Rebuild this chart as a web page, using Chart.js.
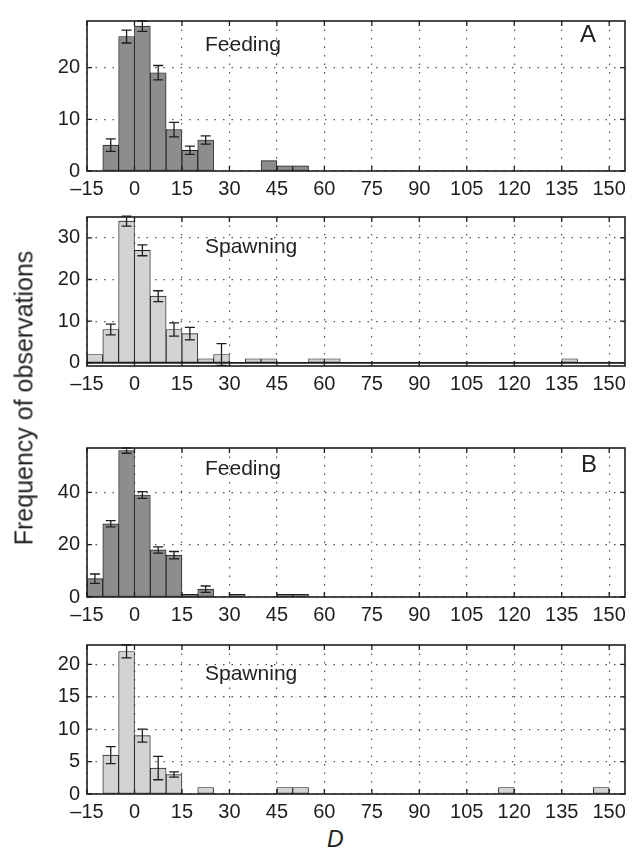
<!DOCTYPE html>
<html>
<head>
<meta charset="utf-8">
<script src="https://cdn.jsdelivr.net/npm/chart.js@4"></script>
<style>
  body { margin: 0; background: #fff; width: 638px; height: 848px; position: relative; overflow: hidden;
         font-family: "Liberation Sans", Arial, sans-serif; color: #222; }
  canvas { position: absolute; left: 0; }
  .lbl { position: absolute; font-size: 21px; line-height: 21px; white-space: nowrap; }
  .big { font-size: 24px; line-height: 24px; }
  #ytitle { position: absolute; font-size: 25px; white-space: nowrap; left: 24px; top: 398px;
            transform: translate(-50%, -50%) rotate(-90deg); }
  #xtitle { position: absolute; font-size: 23px; font-style: italic; left: 327px; top: 826px; }
</style>
</head>
<body>
<canvas id="p1"></canvas>
<canvas id="p2"></canvas>
<canvas id="p3"></canvas>
<canvas id="p4"></canvas>

<div class="lbl" style="left:205px;top:33px">Feeding</div>
<div class="lbl big" style="left:580px;top:22px">A</div>
<div class="lbl" style="left:205px;top:235px">Spawning</div>
<div class="lbl" style="left:205px;top:457px">Feeding</div>
<div class="lbl big" style="left:581px;top:452px">B</div>
<div class="lbl" style="left:205px;top:662px">Spawning</div>
<div id="ytitle">Frequency of observations</div>
<div id="xtitle">D</div>

<script>
// bin centres of D (bins 5 wide)
const binCenters = [-12.5, -7.5, -2.5, 2.5, 7.5, 12.5, 17.5, 22.5, 27.5, 32.5,
                    37.5, 42.5, 47.5, 52.5, 57.5, 62.5, 67.5, 72.5, 77.5, 82.5,
                    87.5, 92.5, 97.5, 102.5, 107.5, 112.5, 117.5, 122.5, 127.5, 132.5,
                    137.5, 142.5, 147.5, 152.5];
const xTicks = [-15, 0, 15, 30, 45, 60, 75, 90, 105, 120, 135, 150];
const xTickLabels = ['\u201315', '0', '15', '30', '45', '60', '75', '90', '105', '120', '135', '150'];

// A: feeding / spawning
const feedingA = [0, 5, 26, 28, 19, 8, 4, 6, 0, 0, 0, 2, 1, 1, 0, 0, 0, 0, 0, 0,
                  0, 0, 0, 0, 0, 0, 0, 0, 0, 0, 0, 0, 0, 0];
const feedingAErr = [null, 1.2, 1.25, 1.0, 1.4, 1.4, 0.8, 0.8];
const spawningA = [2, 8, 34, 27, 16, 8, 7, 1, 2, 0, 1, 1, 0, 0, 1, 1, 0, 0, 0, 0,
                   0, 0, 0, 0, 0, 0, 0, 0, 0, 0, 1, 0, 0, 0];
const spawningAErr = [null, 1.3, 1.2, 1.3, 1.3, 1.6, 1.5, null, 2.6];

// B: feeding / spawning
const feedingB = [7, 28, 56, 39, 18, 16, 1, 3, 0, 1, 0, 0, 1, 1, 0, 0, 0, 0, 0, 0,
                  0, 0, 0, 0, 0, 0, 0, 0, 0, 0, 0, 0, 0, 0];
const feedingBErr = [1.8, 1.2, 1.0, 1.3, 1.2, 1.4, null, 1.2];
const spawningB = [0, 6, 22, 9, 4, 3, 0, 1, 0, 0, 0, 0, 1, 1, 0, 0, 0, 0, 0, 0,
                   0, 0, 0, 0, 0, 0, 1, 0, 0, 0, 0, 0, 1, 0];
const spawningBErr = [null, 1.3, 1.0, 1.0, 1.8, 0.4];

const yTicksFeedingA = [0, 10, 20];
const yTicksSpawningA = [0, 10, 20, 30];
const yTicksFeedingB = [0, 20, 40];
const yTicksSpawningB = [0, 5, 10, 15, 20];

const FEED = '#8d8d90';
const SPAWN = '#d3d3d3';
const INK = '#1e1e1e';

// error bars, zero line, box and inward ticks
const panelDecor = {
  id: 'panelDecor',
  afterDatasetsDraw(chart, args, opts) {
    const ctx = chart.ctx, xs = chart.scales.x, ys = chart.scales.y, a = chart.chartArea;
    ctx.save();
    ctx.strokeStyle = INK;
    if (opts.zeroLine) {
      const y0 = ys.getPixelForValue(0);
      ctx.lineWidth = 1.6;
      ctx.beginPath(); ctx.moveTo(a.left, y0); ctx.lineTo(a.right, y0); ctx.stroke();
    }
    ctx.lineWidth = 1.3;
    opts.errors.forEach((e, i) => {
      if (e == null) return;
      const v = opts.values[i];
      const px = xs.getPixelForValue(binCenters[i]);
      const y1 = ys.getPixelForValue(v + e), y2 = ys.getPixelForValue(v - e);
      ctx.beginPath();
      ctx.moveTo(px, y1); ctx.lineTo(px, y2);
      ctx.moveTo(px - 5, y1); ctx.lineTo(px + 5, y1);
      ctx.moveTo(px - 5, y2); ctx.lineTo(px + 5, y2);
      ctx.stroke();
    });
    // ticks pointing inward
    ctx.lineWidth = 1.3;
    ctx.beginPath();
    xs.ticks.forEach(t => {
      const px = xs.getPixelForValue(t.value);
      ctx.moveTo(px, a.bottom); ctx.lineTo(px, a.bottom - 5);
      ctx.moveTo(px, a.top); ctx.lineTo(px, a.top + 5);
    });
    ys.ticks.forEach(t => {
      const py = ys.getPixelForValue(t.value);
      ctx.moveTo(a.left, py); ctx.lineTo(a.left + 5, py);
      ctx.moveTo(a.right, py); ctx.lineTo(a.right - 5, py);
    });
    ctx.stroke();
    ctx.lineWidth = 1.6;
    ctx.strokeRect(a.left, a.top, a.right - a.left, a.bottom - a.top);
    ctx.restore();
  }
};

function makePanel(id, top, plotH, values, errors, color, yMin, yMax, yTicks, zeroLine) {
  const cv = document.getElementById(id);
  const padTop = 10, axisH = 32;
  cv.width = 638;
  cv.height = padTop + plotH + axisH;
  cv.style.top = (top - padTop) + 'px';
  const grid = {
    color: '#555',
    lineWidth: 1.2,
    drawTicks: false,
    offset: false
  };
  const border = { display: false, dash: [1.5, 7] };
  const font = { family: '"Liberation Sans", Arial, sans-serif', size: 20 };
  return new Chart(cv, {
    type: 'bar',
    data: {
      datasets: [{
        data: binCenters.map((c, i) => ({ x: c, y: values[i] })),
        backgroundColor: color,
        borderColor: INK,
        borderWidth: 0.9,
        borderSkipped: false,
        barPercentage: 1,
        categoryPercentage: 1,
        grouped: false
      }]
    },
    options: {
      responsive: false,
      animation: false,
      layout: { padding: { top: padTop, right: 13, left: 0, bottom: 0 } },
      plugins: {
        legend: { display: false },
        tooltip: { enabled: false },
        panelDecor: { values: values, errors: errors, zeroLine: zeroLine }
      },
      scales: {
        x: {
          type: 'linear',
          offset: false,
          min: -15,
          max: 155,
          afterBuildTicks: s => { s.ticks = xTicks.map(v => ({ value: v })); },
          afterFit: s => { s.height = axisH; },
          ticks: {
            padding: 6,
            color: INK,
            font: font,
            maxRotation: 0,
            autoSkip: false,
            callback: v => xTickLabels[xTicks.indexOf(v)]
          },
          grid: grid,
          border: border
        },
        y: {
          min: yMin,
          max: yMax,
          afterBuildTicks: s => { s.ticks = yTicks.map(v => ({ value: v })); },
          afterFit: s => { s.width = 87; },
          ticks: { padding: 7, color: INK, font: font },
          grid: grid,
          border: border
        }
      }
    },
    plugins: [panelDecor]
  });
}

makePanel('p1', 12, 159, feedingA, feedingAErr, FEED, 0, 29, yTicksFeedingA, false);
makePanel('p2', 208, 158, spawningA, spawningAErr, SPAWN, -0.75, 35, yTicksSpawningA, true);
makePanel('p3', 439, 158, feedingB, feedingBErr, FEED, 0, 57, yTicksFeedingB, false);
makePanel('p4', 636, 158, spawningB, spawningBErr, SPAWN, 0, 23, yTicksSpawningB, false);
</script>
</body>
</html>
